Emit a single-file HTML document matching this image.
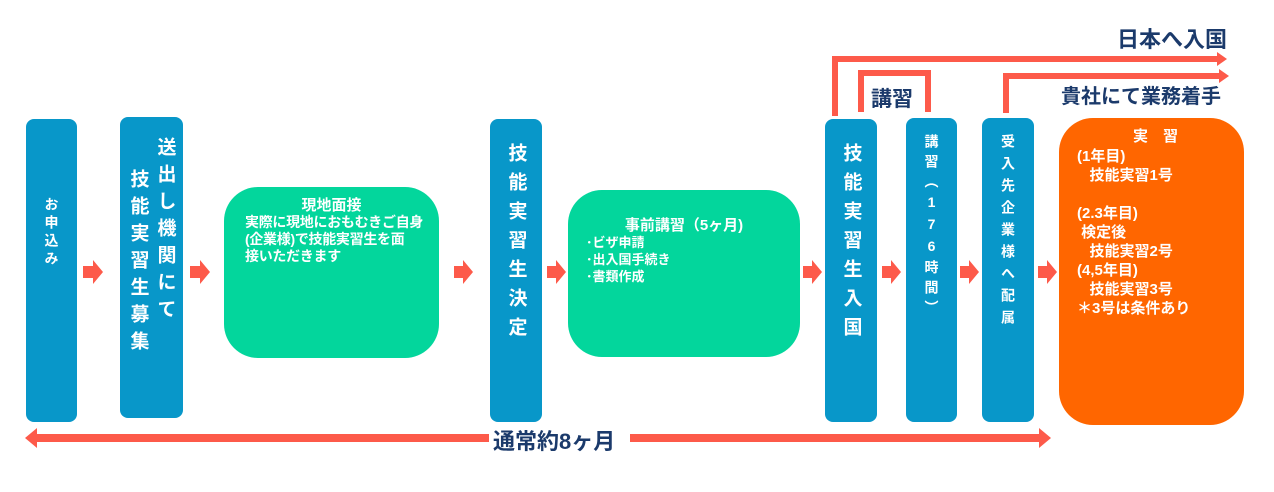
<!DOCTYPE html>
<html><head><meta charset="utf-8"><style>
body{margin:0;width:1274px;height:492px;background:#fff;position:relative;overflow:hidden;font-family:"Liberation Sans","Noto Sans CJK JP",sans-serif;font-weight:bold}
.b{position:absolute;background:#0897c9;border-radius:8px;color:#fff;display:flex;flex-direction:column;align-items:center}
.v{writing-mode:vertical-rl;text-orientation:upright}
.g{position:absolute;background:#03d69c;border-radius:34px;color:#fff;font-size:14px;line-height:17px}
.t{position:absolute;color:#1b3a6b;font-weight:bold;white-space:nowrap}
</style></head><body>
<div class="b" style="left:26px;top:119px;width:51px;height:303px;justify-content:flex-start"><div class="v" style="font-size:14px;margin-top:78px;letter-spacing:4px">お申込み</div></div>
<div class="b" style="left:120px;top:117px;width:63px;height:301px;flex-direction:row-reverse;justify-content:center;align-items:flex-start"><div class="v" style="font-size:19px;margin-top:20px;letter-spacing:8px">送出し機関にて</div><div class="v" style="font-size:19px;margin-top:52px;letter-spacing:8px">技能実習生募集</div></div>
<div class="g" style="left:224px;top:187px;width:215px;height:171px"><div style="text-align:center;margin-top:10px;font-size:15px">現地面接</div><div style="padding-left:21px;letter-spacing:-0.3px">実際に現地におもむきご自身<br>(企業様)で技能実習生を面<br>接いただきます</div></div>
<div class="b" style="left:490px;top:119px;width:52px;height:303px"><div class="v" style="font-size:19px;margin-top:24px;letter-spacing:10px">技能実習生決定</div></div>
<div class="g" style="left:568px;top:190px;width:232px;height:167px"><div style="text-align:center;margin-top:27px;font-size:15px">事前講習（5ヶ月)</div><div style="padding-left:18px;font-size:13px">･ビザ申請<br>･出入国手続き<br>･書類作成</div></div>
<div class="b" style="left:825px;top:119px;width:52px;height:303px"><div class="v" style="font-size:19px;margin-top:24px;letter-spacing:10px">技能実習生入国</div></div>
<div class="b" style="left:906px;top:118px;width:51px;height:304px"><div class="v" style="font-size:14px;margin-top:16px;letter-spacing:6px">講習（176時間）</div></div>
<div class="b" style="left:982px;top:118px;width:52px;height:304px"><div class="v" style="font-size:14px;margin-top:16px;letter-spacing:8px">受入先企業様へ配属</div></div>
<div style="position:absolute;left:1059px;top:118px;width:185px;height:307px;background:#ff6600;border-radius:34px;color:#fff;font-size:15px;line-height:19px">
<div style="position:absolute;left:74px;top:9px">実　習</div>
<div style="position:absolute;left:18px;top:29px;white-space:pre">(1年目)
   技能実習1号

(2.3年目)
 検定後
   技能実習2号
(4,5年目)
   技能実習3号
＊3号は条件あり</div></div>
<svg style="position:absolute;left:0;top:0" width="1274" height="492">
<g fill="#fd5a4a">
<polygon points="83,266 93,266 93,260 103,272 93,284 93,278 83,278"/>
<polygon points="190,266 200,266 200,260 210,272 200,284 200,278 190,278"/>
<polygon points="454,266 463,266 463,260 473,272 463,284 463,278 454,278"/>
<polygon points="547,266 556,266 556,260 566,272 556,284 556,278 547,278"/>
<polygon points="803,266 812,266 812,260 822,272 812,284 812,278 803,278"/>
<polygon points="882,266 891,266 891,260 901,272 891,284 891,278 882,278"/>
<polygon points="960,266 969,266 969,260 979,272 969,284 969,278 960,278"/>
<polygon points="1038,266 1047,266 1047,260 1057,272 1047,284 1047,278 1038,278"/>
<rect x="34" y="434" width="455" height="8"/><polygon points="25,438 37,428 37,448"/>
<rect x="630" y="434" width="410" height="8"/><polygon points="1051,438 1039,428 1039,448"/>
<rect x="832" y="56" width="6" height="60"/><rect x="832" y="56" width="386" height="6"/><polygon points="1227,59 1217,52 1217,66"/>
<rect x="858" y="70" width="6" height="42"/><rect x="858" y="70" width="73" height="6"/><rect x="925" y="70" width="6" height="42"/>
<rect x="1003" y="73" width="6" height="40"/><rect x="1003" y="73" width="217" height="6"/><polygon points="1229,76 1219,69 1219,83"/>
</g></svg>
<div class="t" style="left:493px;top:424px;font-size:22px">通常約8ヶ月</div>
<div class="t" style="left:1117px;top:22px;font-size:22px">日本へ入国</div>
<div class="t" style="left:871px;top:83px;font-size:21px">講習</div>
<div class="t" style="left:1061px;top:80px;font-size:20px">貴社にて業務着手</div>
</body></html>
